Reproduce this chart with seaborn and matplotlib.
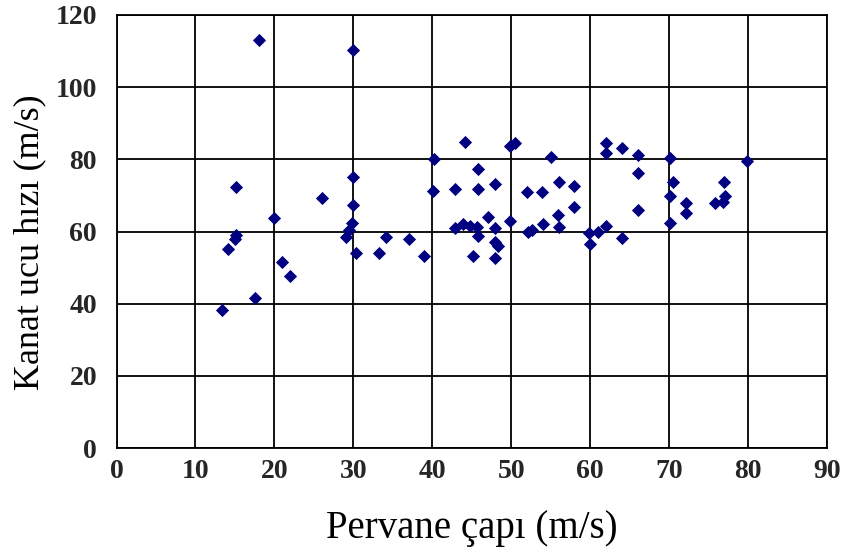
import matplotlib
matplotlib.use("Agg")
import matplotlib.pyplot as plt
import seaborn as sns
import pandas as pd

# Data
pervane_capi = [13.4, 14.1, 15.0, 15.1, 15.1, 17.5, 18.0, 20.0, 21.0, 22.0,
                26.0, 29.1, 29.4, 29.8, 30.0, 30.0, 30.0, 30.3, 33.3, 34.1,
                37.0, 39.0, 40.1, 40.2, 42.9, 42.9, 43.9, 44.2, 44.8, 45.1,
                45.7, 45.8, 45.8, 45.8, 47.0, 47.9, 47.9, 48.0, 48.3, 47.9,
                49.8, 50.5, 49.9, 52.0, 52.1, 52.6, 53.9, 54.0, 55.1, 55.9,
                56.0, 56.1, 58.0, 58.0, 59.9, 60.0, 61.0, 62.0, 62.0, 62.0,
                64.0, 64.0, 66.0, 66.0, 66.0, 70.1, 70.5, 70.1, 70.1, 72.1,
                72.1, 75.8, 76.8, 77.1, 76.9, 79.9]
kanat_ucu_hizi = [38.2, 55.1, 57.9, 59.0, 72.3, 41.5, 113.1, 63.8, 51.6, 47.7,
                  69.4, 58.4, 60.4, 62.3, 67.3, 75.2, 110.3, 54.0, 54.0, 58.6,
                  58.0, 53.1, 71.3, 80.2, 71.7, 61.0, 62.2, 84.8, 61.5, 53.1,
                  61.2, 58.8, 71.8, 77.2, 64.0, 73.1, 60.9, 57.0, 56.1, 52.6,
                  83.6, 84.6, 62.8, 71.0, 59.9, 60.4, 70.9, 62.2, 80.6, 64.6,
                  61.3, 73.8, 72.7, 66.9, 59.6, 56.6, 60.0, 61.5, 84.6, 81.7,
                  83.1, 58.1, 81.2, 76.3, 66.0, 80.5, 73.8, 69.8, 62.4, 68.0,
                  65.2, 67.8, 68.3, 69.7, 73.8, 79.5]
x_ticks = [0, 10, 20, 30, 40, 50, 60, 70, 80, 90]
y_ticks = [0, 20, 40, 60, 80, 100, 120]

df = pd.DataFrame({"x": pervane_capi, "y": kanat_ucu_hizi})

sns.set_style("white")
plt.rcParams['font.family'] = ['Liberation Serif', 'DejaVu Serif']

fig = plt.figure(figsize=(8.44, 5.55), dpi=100)
ax = fig.add_axes([116.5 / 844, 1 - 448 / 555, (827 - 116.5) / 844, (448 - 15) / 555])

sns.scatterplot(data=df, x="x", y="y", ax=ax, marker="D", color="#000080",
                s=45, linewidth=0, zorder=3)

ax.set_xlim(0, 90)
ax.set_ylim(0, 120)
ax.set_xticks(x_ticks)
ax.set_yticks(y_ticks)
ax.grid(True, color="black", linewidth=1.3)
ax.set_axisbelow(True)
for sp in ax.spines.values():
    sp.set_color("black")
    sp.set_linewidth(1.3)

ax.tick_params(axis="both", direction="inout", length=10, width=1.3,
               color="black", labelsize=20)
ax.tick_params(axis="x", pad=3)
ax.tick_params(axis="y", pad=9)
for lab in ax.get_xticklabels() + ax.get_yticklabels():
    lab.set_fontweight("bold")

ax.set_xlabel("Pervane çapı (m/s)", fontsize=28, color="black")
ax.set_ylabel("Kanat ucu hızı (m/s)", fontsize=26, color="black")
ax.xaxis.set_label_coords(0.5, (448 - 510) / 433)
ax.yaxis.set_label_coords((46 - 116.5) / 710.5, (448 - 242) / 433)

fig.savefig("out.png", dpi=100)
